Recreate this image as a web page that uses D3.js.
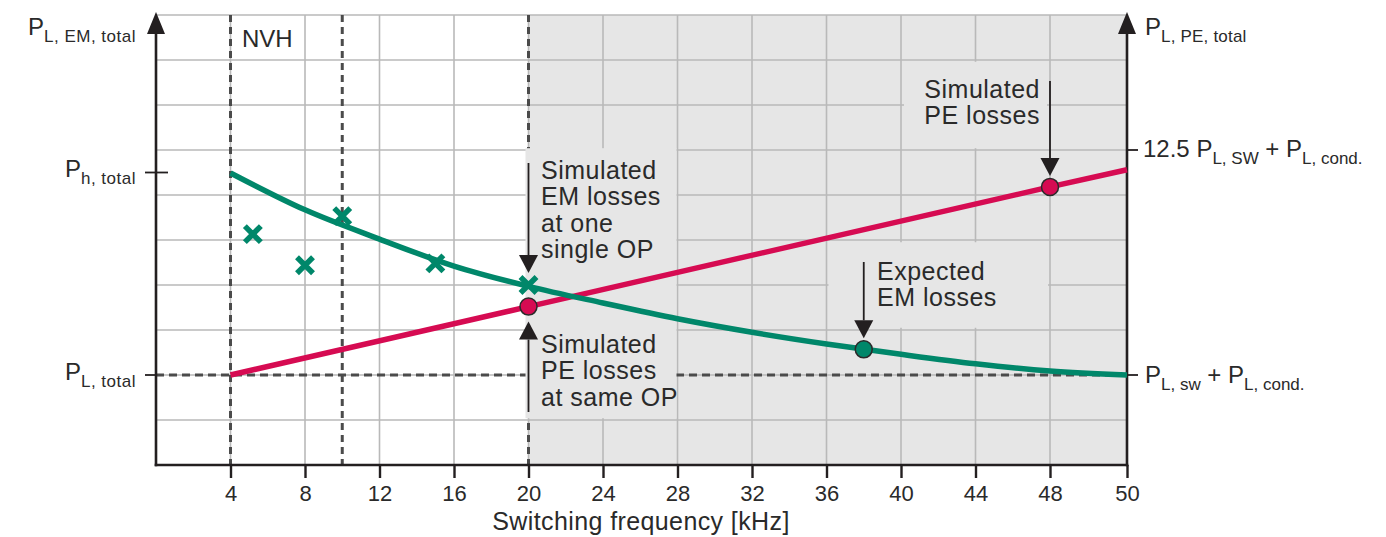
<!DOCTYPE html>
<html><head><meta charset="utf-8">
<script src="https://cdn.jsdelivr.net/npm/d3@7"></script>
<style>
html,body{margin:0;padding:0;background:#fff;}
svg{display:block;font-family:"Liberation Sans",Arial,sans-serif;}
</style></head><body>
<svg id="chart" width="1386" height="537"></svg>
<script>
// Frequency ticks (kHz); the last step 48 -> 50 is drawn as wide as the others
const xTicks = [4, 8, 12, 16, 20, 24, 28, 32, 36, 40, 44, 48, 50];
const gridLevels = [1, 2, 3, 4, 5, 6, 7, 8, 9, 10];
const nvhLimits = [4, 10];
const shadeStart = 20;

// Expected EM losses vs switching frequency
const emFreq = [4, 8, 12, 16, 20, 24, 28, 32, 36, 40, 44, 48, 50];
const emLoss = [6.49, 5.67, 5.02, 4.42, 3.97, 3.6, 3.25, 2.95, 2.69, 2.46, 2.25, 2.09, 2.0];
// Simulated EM losses at single operating points
const simEmFreq = [5.2, 8, 10, 15, 20];
const simEmLoss = [5.13, 4.44, 5.53, 4.48, 4.0];
// PE losses (linear in switching frequency)
const peFreq = [4, 20, 48, 50];
const peLoss = [2.0, 3.52, 6.18, 6.56];
// Highlighted PE and EM points
const peMarkFreq = [20, 48];
const peMarkLoss = [3.52, 6.18];
const emMarkFreq = [38];
const emMarkLoss = [2.57];
// Reference levels on the two vertical axes
const levelHTotal = 6.5;
const levelLTotal = 2.0;
const levelPe125 = 7.0;

const GREEN = "#00876a", RED = "#d60b52", BG = "#e6e6e6", GRID = "#b9b9b9",
      INK = "#231f20", DASH = "#4b4b4b", TXT = "#2a2a2a";

const svg = d3.select("#chart");
const x = d3.scaleLinear().domain([0, 48, 50]).range([156, 1050, 1127]);
const y = d3.scaleLinear().domain([0, 10]).range([465, 15]);
const x0 = x(0), x1 = x(50), yB = y(0), yT = y(10);

// shaded region beyond 20 kHz
svg.append("rect").attr("x", x(shadeStart)).attr("y", yT)
  .attr("width", x1 - x(shadeStart)).attr("height", yB - yT).attr("fill", BG);

// grid
const grid = svg.append("g").attr("stroke", GRID).attr("stroke-width", 1.6);
grid.selectAll(".h").data(gridLevels).join("line")
  .attr("x1", x0).attr("x2", x1).attr("y1", d => y(d)).attr("y2", d => y(d));
grid.selectAll(".v").data(xTicks.slice(0, -1)).join("line")
  .attr("x1", d => x(d)).attr("x2", d => x(d)).attr("y1", yT).attr("y2", yB);

// dashed limits
const dash = svg.append("g").attr("stroke", DASH).attr("stroke-width", 3)
  .attr("stroke-dasharray", "7,5");
dash.selectAll(".vd").data([...nvhLimits, shadeStart]).join("line")
  .attr("x1", d => x(d)).attr("x2", d => x(d)).attr("y1", yT).attr("y2", yB);
dash.append("line").attr("x1", x0).attr("x2", x1)
  .attr("y1", y(levelLTotal)).attr("y2", y(levelLTotal))
  .attr("stroke-dasharray", "8,5");

// annotation backgrounds (hide grid behind the text)
const boxes = [
  [x(20) - 3, y(7.04), x(28) - 1, y(1.04)],
  [x(36) + 2, y(4.95), x(48) - 2, y(3.05)],
  [x(40) + 3, y(8.96), x(48) - 3, y(7.04)]
];
svg.append("g").selectAll("rect").data(boxes).join("rect")
  .attr("x", d => d[0]).attr("y", d => d[1])
  .attr("width", d => d[2] - d[0]).attr("height", d => d[3] - d[1]).attr("fill", BG);

// axes
const axes = svg.append("g").attr("stroke", INK).attr("stroke-width", 2.6).attr("fill", "none");
axes.append("line").attr("x1", x0).attr("x2", x0).attr("y1", yB + 1.3).attr("y2", yT + 10);
axes.append("line").attr("x1", x1).attr("x2", x1).attr("y1", yB + 1.3).attr("y2", yT + 10);
axes.append("line").attr("x1", x0 - 1.3).attr("x2", x1 + 1.3).attr("y1", yB).attr("y2", yB);
[x0, x1].forEach(ax => {
  svg.append("path").attr("d", `M${ax},${yT - 3}L${ax - 9},${yT + 19}L${ax + 9},${yT + 19}Z`).attr("fill", INK);
});
// level ticks
axes.append("line").attr("x1", x0 - 11).attr("x2", x0 + 12).attr("y1", y(levelHTotal)).attr("y2", y(levelHTotal)).attr("stroke-width", 1.8);
axes.append("line").attr("x1", x0 - 11).attr("x2", x0).attr("y1", y(levelLTotal)).attr("y2", y(levelLTotal)).attr("stroke-width", 1.8);
axes.append("line").attr("x1", x1).attr("x2", x1 + 11).attr("y1", y(levelPe125)).attr("y2", y(levelPe125)).attr("stroke-width", 1.8);
axes.append("line").attr("x1", x1).attr("x2", x1 + 11).attr("y1", y(levelLTotal)).attr("y2", y(levelLTotal)).attr("stroke-width", 1.8);

// x axis ticks and labels
const xAxis = d3.axisBottom(x).tickValues(xTicks).tickSize(13).tickPadding(7).tickFormat(d3.format("d"));
const gx = svg.append("g").attr("transform", `translate(0,${yB})`).call(xAxis);
gx.select(".domain").remove();
gx.selectAll(".tick line").attr("stroke", INK).attr("stroke-width", 2.4);
gx.selectAll(".tick text").attr("fill", TXT).attr("font-size", 22)
  .attr("font-family", "'Liberation Sans', Arial, sans-serif");

svg.append("text").attr("x", 641).attr("y", 530)
  .attr("text-anchor", "middle").attr("font-size", 25).attr("letter-spacing", 0.4).attr("fill", TXT)
  .text("Switching frequency [kHz]");

// curves
const line = d3.line().x(d => x(d[0])).y(d => y(d[1]));
svg.append("path").datum(peFreq.map((f, i) => [f, peLoss[i]]))
  .attr("d", line).attr("fill", "none").attr("stroke", RED).attr("stroke-width", 5.5);
svg.append("path").datum(emFreq.map((f, i) => [f, emLoss[i]]))
  .attr("d", line.curve(d3.curveMonotoneX)).attr("fill", "none").attr("stroke", GREEN).attr("stroke-width", 5.5);

// simulated EM crosses
const cr = 8;
svg.append("g").selectAll("path").data(simEmFreq.map((f, i) => [f, simEmLoss[i]])).join("path")
  .attr("d", d => {
    const cx = x(d[0]), cy = y(d[1]);
    return `M${cx - cr},${cy - cr}L${cx + cr},${cy + cr}M${cx - cr},${cy + cr}L${cx + cr},${cy - cr}`;
  })
  .attr("stroke", GREEN).attr("stroke-width", 5.5).attr("fill", "none");

// highlighted points
svg.append("g").selectAll("circle").data(peMarkFreq.map((f, i) => [f, peMarkLoss[i]])).join("circle")
  .attr("cx", d => x(d[0])).attr("cy", d => y(d[1])).attr("r", 8.5)
  .attr("fill", RED).attr("stroke", "#2a2a2a").attr("stroke-width", 1.5);
svg.append("g").selectAll("circle").data(emMarkFreq.map((f, i) => [f, emMarkLoss[i]])).join("circle")
  .attr("cx", d => x(d[0])).attr("cy", d => y(d[1])).attr("r", 8.5)
  .attr("fill", GREEN).attr("stroke", "#2a2a2a").attr("stroke-width", 1.5);

// annotation arrows: (x, from y, tip y)
function arrow(ax, yFrom, yTip) {
  const dir = yTip > yFrom ? 1 : -1;
  const base = yTip - dir * 18;
  svg.append("line").attr("x1", ax).attr("x2", ax).attr("y1", yFrom).attr("y2", base)
    .attr("stroke", INK).attr("stroke-width", 1.8);
  svg.append("path").attr("d", `M${ax},${yTip}L${ax - 9.5},${base}L${ax + 9.5},${base}Z`).attr("fill", INK);
}
arrow(x(20), 163, y(simEmLoss[4]) - 12);
arrow(x(20), 412, y(peMarkLoss[0]) + 15);
arrow(x(emMarkFreq[0]), 262, y(emMarkLoss[0]) - 11);
arrow(x(peMarkFreq[1]), 81, y(peMarkLoss[1]) - 11);

// annotation texts
function block(tx, ty, lines, anchor) {
  const t = svg.append("text").attr("font-size", 25).attr("fill", TXT)
    .attr("letter-spacing", 0.5).attr("text-anchor", anchor || "start");
  lines.forEach((s, i) => t.append("tspan").attr("x", tx).attr("y", ty + i * 26.3).text(s));
}
block(541, 179, ["Simulated", "EM losses", "at one", "single OP"]);
block(541, 353, ["Simulated", "PE losses", "at same OP"]);
block(877, 280, ["Expected", "EM losses"]);
block(1040, 98, ["Simulated", "PE losses"], "end");

svg.append("text").attr("x", 242).attr("y", 47).attr("font-size", 24).attr("fill", TXT).text("NVH");

// axis labels with subscripts
function subLabel(tx, ty, parts, anchor, spacing) {
  const t = svg.append("text").attr("x", tx).attr("y", ty).attr("fill", TXT)
    .attr("text-anchor", anchor).attr("font-size", 24);
  let low = false;
  parts.forEach(([s, sub]) => {
    const sp = t.append("tspan").text(s);
    if (sub) sp.attr("font-size", 17).attr("letter-spacing", spacing);
    if (sub && !low) { sp.attr("dy", 7); low = true; }
    else if (!sub && low) { sp.attr("dy", -7); low = false; }
  });
}
subLabel(136, 35, [["P"], ["L, EM, total", 1]], "end", 0.5);
subLabel(136, y(levelHTotal) + 4, [["P"], ["h, total", 1]], "end", 0.5);
subLabel(136, y(levelLTotal) + 5, [["P"], ["L, total", 1]], "end", 0.5);
subLabel(1145, 35, [["P"], ["L, PE, total", 1]], "start", 0.2);
subLabel(1143, y(levelPe125) + 7, [["12.5 P"], ["L, SW", 1], [" + P"], ["L, cond.", 1]], "start", 0);
subLabel(1145, y(levelLTotal) + 8, [["P"], ["L, sw", 1], [" + P"], ["L, cond.", 1]], "start", 0);
</script>
</body></html>
